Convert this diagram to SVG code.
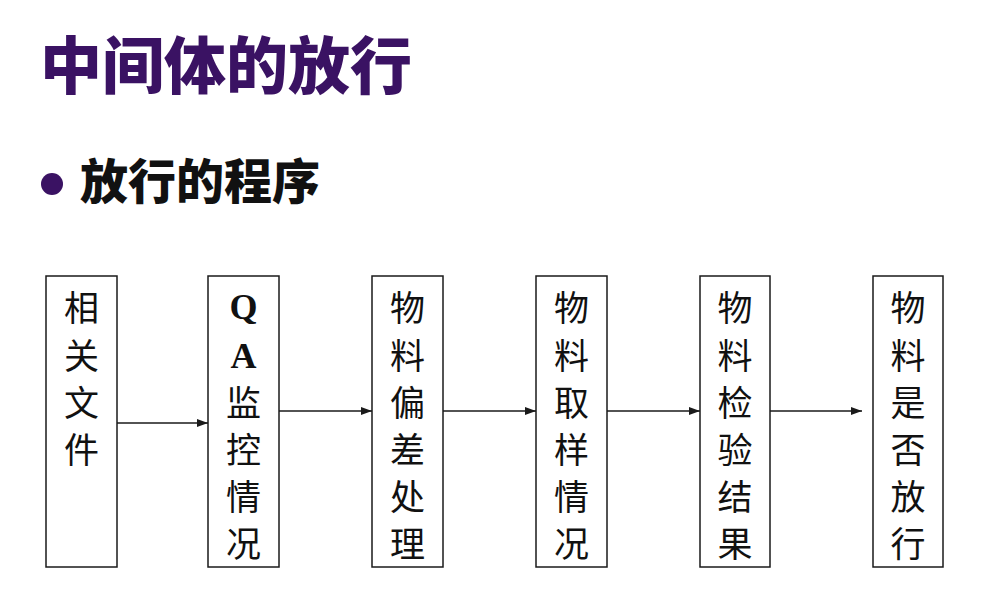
<svg xmlns="http://www.w3.org/2000/svg" width="985" height="590" viewBox="0 0 985 590">
<style>
.box{fill:#fff;stroke:#1a1a1a;stroke-width:1.5}
.t{font-family:"Noto Sans CJK SC","Noto Sans",sans-serif;font-size:35px;fill:#111;text-anchor:middle}
.q{font-family:"Liberation Serif",serif;font-weight:bold;font-size:36px;fill:#111;text-anchor:middle}
.c{stroke:#1a1a1a;stroke-width:1.3;fill:none;marker-end:url(#ah)}
</style>
<defs>
<marker id="ah" viewBox="0 0 11 8" refX="11" refY="4" markerWidth="11" markerHeight="8" markerUnits="userSpaceOnUse" orient="auto">
<path d="M0,0 L11,4 L0,8 z" fill="#1a1a1a"/>
</marker>
</defs>
<rect width="985" height="590" fill="#fff"/>
<text x="40" y="89" font-family="'Noto Sans CJK SC',sans-serif" font-weight="900" font-size="62" fill="#3a1263">中间体的放行</text>
<circle cx="52" cy="184" r="11" fill="#3a1263"/>
<text x="80" y="199" font-family="'Noto Sans CJK SC',sans-serif" font-weight="900" font-size="48" fill="#111">放行的程序</text>
<g id="connectors">
<line class="c" x1="117" y1="423" x2="208" y2="423"/>
<line class="c" x1="279" y1="411" x2="372" y2="411"/>
<line class="c" x1="443" y1="411" x2="536" y2="411"/>
<line class="c" x1="607" y1="411" x2="700" y2="411"/>
<line class="c" x1="770" y1="411" x2="862" y2="411"/>
</g>
<g id="n1">
<rect class="box" x="46" y="276" width="71" height="291"/>
<text class="t" x="81.5" y="321">相</text>
<text class="t" x="81.5" y="369">关</text>
<text class="t" x="81.5" y="416">文</text>
<text class="t" x="81.5" y="463">件</text>
</g>
<g id="n2">
<rect class="box" x="208" y="276" width="71" height="291"/>
<text class="q" x="243.5" y="319">Q</text>
<text class="q" x="243.5" y="368">A</text>
<text class="t" x="243.5" y="416">监</text>
<text class="t" x="243.5" y="463">控</text>
<text class="t" x="243.5" y="510">情</text>
<text class="t" x="243.5" y="557">况</text>
</g>
<g id="n3">
<rect class="box" x="372" y="276" width="71" height="291"/>
<text class="t" x="407.5" y="321">物</text>
<text class="t" x="407.5" y="369">料</text>
<text class="t" x="407.5" y="416">偏</text>
<text class="t" x="407.5" y="463">差</text>
<text class="t" x="407.5" y="510">处</text>
<text class="t" x="407.5" y="557">理</text>
</g>
<g id="n4">
<rect class="box" x="536" y="276" width="71" height="291"/>
<text class="t" x="571.5" y="321">物</text>
<text class="t" x="571.5" y="369">料</text>
<text class="t" x="571.5" y="416">取</text>
<text class="t" x="571.5" y="463">样</text>
<text class="t" x="571.5" y="510">情</text>
<text class="t" x="571.5" y="557">况</text>
</g>
<g id="n5">
<rect class="box" x="700" y="276" width="70" height="291"/>
<text class="t" x="735" y="321">物</text>
<text class="t" x="735" y="369">料</text>
<text class="t" x="735" y="416">检</text>
<text class="t" x="735" y="463">验</text>
<text class="t" x="735" y="510">结</text>
<text class="t" x="735" y="557">果</text>
</g>
<g id="n6">
<rect class="box" x="873" y="276" width="70" height="291"/>
<text class="t" x="908" y="321">物</text>
<text class="t" x="908" y="369">料</text>
<text class="t" x="908" y="416">是</text>
<text class="t" x="908" y="463">否</text>
<text class="t" x="908" y="510">放</text>
<text class="t" x="908" y="557">行</text>
</g>
</svg>
